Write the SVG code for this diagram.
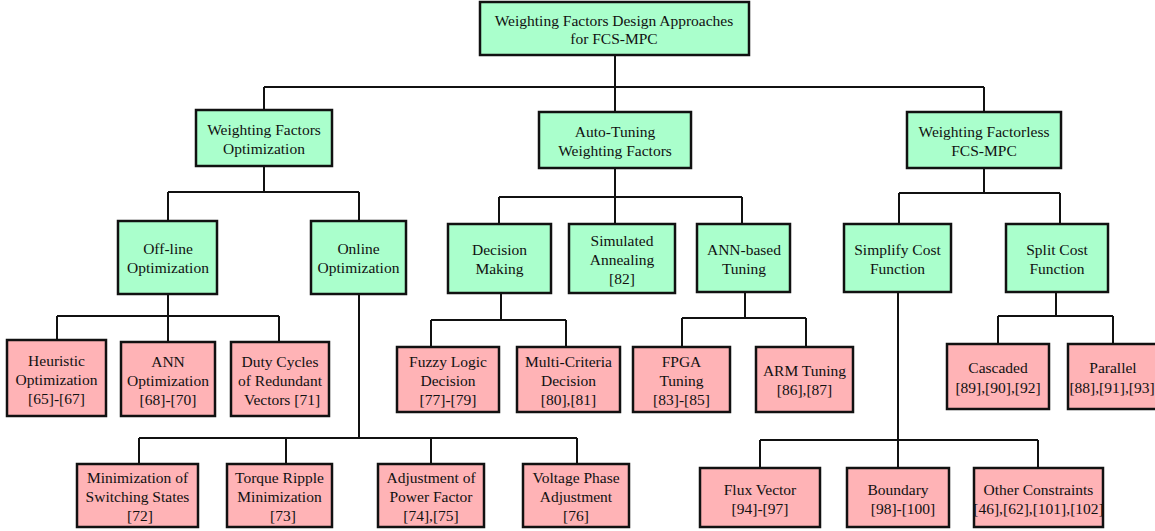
<svg xmlns="http://www.w3.org/2000/svg" width="1155" height="531" viewBox="0 0 1155 531">
<style>
.g{fill:#aaffcc;stroke:#111;stroke-width:2.5}
.p{fill:#ffb3b6;stroke:#111;stroke-width:2.5}
text{font-family:"Liberation Serif","Times New Roman",serif;font-size:15.5px;fill:#111;text-anchor:middle;dominant-baseline:central}
.c{fill:none;stroke:#111;stroke-width:2}
</style>
<rect width="1155" height="531" fill="#fff"/>
<g id="connectors" class="c">
<path d="M615,55V87M264,87H984M264,87V110M615,87V112M984,87V112"/>
<path d="M264,166V192M168,192H359M168,192V221M359,192V221"/>
<path d="M168,294V316M57,316H279M57,316V340M168,316V342M279,316V342"/>
<path d="M359,294V438M139,438H577M139,438V464M286,438V464M431,438V464M577,438V464"/>
<path d="M615,168V197M499,197H742M499,197V224M615,197V224M742,197V224"/>
<path d="M501,293V320M431,320H566M431,320V347M566,320V347"/>
<path d="M745,292V318M682,318H806M682,318V347M806,318V347"/>
<path d="M984,168V193M899,193H1060M899,193V224M1060,193V224"/>
<path d="M898,292V440M760,440H1038M760,440V468M898,440V468M1038,440V468"/>
<path d="M1056,292V316M998,316H1113M998,316V344M1113,316V344"/>
</g>
<g id="root"><rect class="g" x="480" y="2" width="269" height="53"/><text x="614" y="20.5">Weighting Factors Design Approaches</text><text x="614" y="38.5">for FCS-MPC</text></g>
<g id="wfo"><rect class="g" x="196" y="110" width="136" height="56"/><text x="264" y="129">Weighting Factors</text><text x="264" y="148">Optimization</text></g>
<g id="atwf"><rect class="g" x="539" y="112" width="152" height="56"/><text x="615" y="131">Auto-Tuning</text><text x="615" y="150">Weighting Factors</text></g>
<g id="wfl"><rect class="g" x="907" y="112" width="154" height="56"/><text x="984" y="131">Weighting Factorless</text><text x="984" y="150">FCS-MPC</text></g>
<g id="offline"><rect class="g" x="118" y="221" width="99" height="73"/><text x="168" y="248.5">Off-line</text><text x="168" y="267.5">Optimization</text></g>
<g id="online"><rect class="g" x="311" y="221" width="95" height="73"/><text x="358.5" y="248.5">Online</text><text x="358.5" y="267.5">Optimization</text></g>
<g id="decision"><rect class="g" x="448" y="224" width="103" height="69"/><text x="499.5" y="249.5">Decision</text><text x="499.5" y="268.5">Making</text></g>
<g id="simulated"><rect class="g" x="569" y="224" width="106" height="69"/><text x="622" y="240">Simulated</text><text x="622" y="259">Annealing</text><text x="622" y="278">[82]</text></g>
<g id="annbased"><rect class="g" x="697" y="224" width="93" height="68"/><text x="744" y="249">ANN-based</text><text x="744" y="268">Tuning</text></g>
<g id="simplify"><rect class="g" x="844" y="224" width="107" height="68"/><text x="897.5" y="249">Simplify Cost</text><text x="897.5" y="268">Function</text></g>
<g id="split"><rect class="g" x="1006" y="224" width="102" height="68"/><text x="1057" y="249">Split Cost</text><text x="1057" y="268">Function</text></g>
<g id="heuristic"><rect class="p" x="7" y="340" width="99" height="76"/><text x="56.5" y="360.5">Heuristic</text><text x="56.5" y="379.5">Optimization</text><text x="56.5" y="398.5">[65]-[67]</text></g>
<g id="annopt"><rect class="p" x="121" y="342" width="94" height="74"/><text x="168" y="361">ANN</text><text x="168" y="380">Optimization</text><text x="168" y="399">[68]-[70]</text></g>
<g id="duty"><rect class="p" x="231" y="342" width="98" height="74"/><text x="280" y="361">Duty Cycles</text><text x="280" y="380">of Redundant</text><text x="282" y="399">Vectors [71]</text></g>
<g id="fuzzy"><rect class="p" x="397" y="347" width="102" height="65"/><text x="448" y="361">Fuzzy Logic</text><text x="448" y="380">Decision</text><text x="448" y="399">[77]-[79]</text></g>
<g id="multi"><rect class="p" x="517" y="347" width="103" height="65"/><text x="568.5" y="361">Multi-Criteria</text><text x="568.5" y="380">Decision</text><text x="568.5" y="399">[80],[81]</text></g>
<g id="fpga"><rect class="p" x="633" y="347" width="97" height="65"/><text x="681.5" y="361">FPGA</text><text x="681.5" y="380">Tuning</text><text x="681.5" y="399">[83]-[85]</text></g>
<g id="arm"><rect class="p" x="756" y="347" width="97" height="65"/><text x="804.5" y="370.5">ARM Tuning</text><text x="804.5" y="389.5">[86],[87]</text></g>
<g id="cascaded"><rect class="p" x="947" y="344" width="102" height="65"/><text x="998" y="367.5">Cascaded</text><text x="998" y="387">[89],[90],[92]</text></g>
<g id="parallel"><rect class="p" x="1068" y="344" width="90" height="65"/><text x="1113" y="367.5">Parallel</text><text x="1112" y="387">[88],[91],[93]</text></g>
<g id="minsw"><rect class="p" x="77" y="464" width="121" height="63"/><text x="137.5" y="477.5">Minimization of</text><text x="137.5" y="496.5">Switching States</text><text x="140" y="515">[72]</text></g>
<g id="torque"><rect class="p" x="227" y="464" width="105" height="63"/><text x="279.5" y="477.5">Torque Ripple</text><text x="279.5" y="496.5">Minimization</text><text x="283" y="515">[73]</text></g>
<g id="adjust"><rect class="p" x="378" y="464" width="106" height="63"/><text x="431" y="477.5">Adjustment of</text><text x="431" y="496.5">Power Factor</text><text x="431" y="515">[74],[75]</text></g>
<g id="voltage"><rect class="p" x="523" y="464" width="106" height="63"/><text x="576" y="477.5">Voltage Phase</text><text x="576" y="496.5">Adjustment</text><text x="576" y="515">[76]</text></g>
<g id="flux"><rect class="p" x="700" y="468" width="120" height="59"/><text x="760" y="489">Flux Vector</text><text x="760" y="508.5">[94]-[97]</text></g>
<g id="boundary"><rect class="p" x="847" y="468" width="102" height="59"/><text x="898" y="489">Boundary</text><text x="903" y="508.5">[98]-[100]</text></g>
<g id="other"><rect class="p" x="974" y="468" width="129" height="59"/><text x="1038.5" y="489">Other Constraints</text><text x="1038.5" y="508.5">[46],[62],[101],[102]</text></g>
</svg>
